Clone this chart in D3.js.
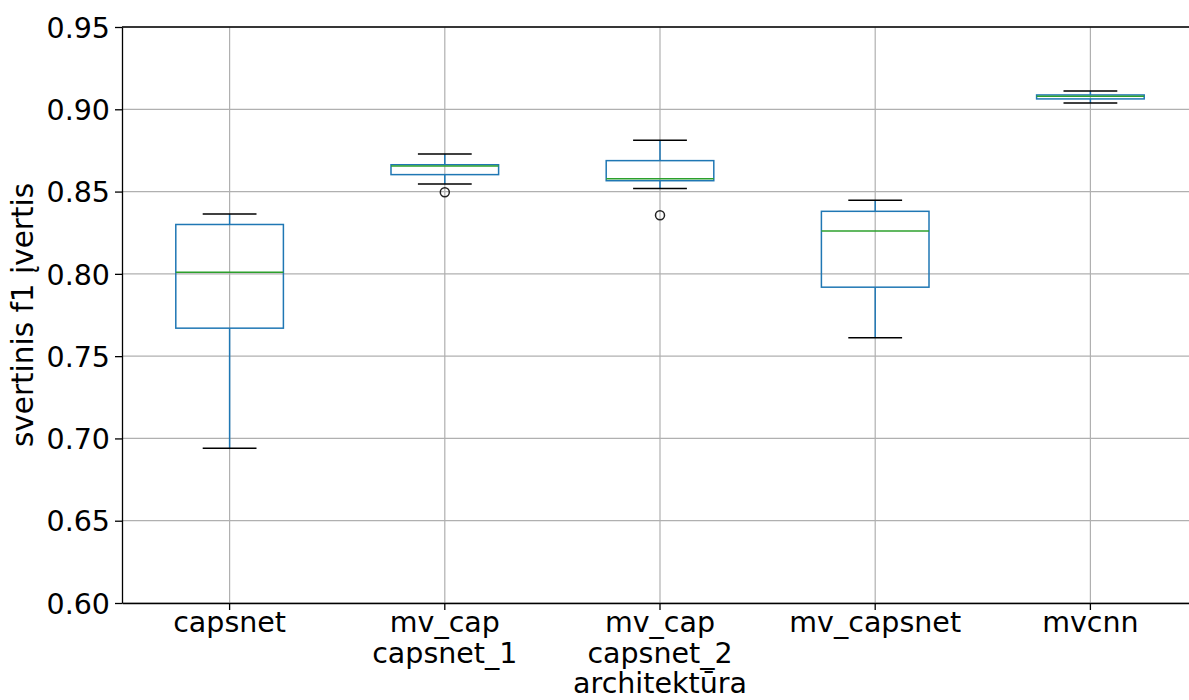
<!DOCTYPE html>
<html>
<head>
<meta charset="utf-8">
<script src="https://cdn.jsdelivr.net/npm/d3@7"></script>
<style>
  body { margin: 0; background: #fff; }
  svg text { font-family: "DejaVu Sans", sans-serif; fill: #000; }
</style>
</head>
<body>
<svg id="chart" width="1189" height="700"></svg>
<script>
// data
var categories = ["capsnet", "mv_cap\ncapsnet_1", "mv_cap\ncapsnet_2\narchitektūra", "mv_capsnet", "mvcnn"];
var whiskerLow  = [0.694, 0.8546, 0.8518, 0.7612, 0.9038];
var q1          = [0.767, 0.8603, 0.8566, 0.7919, 0.9063];
var median      = [0.801, 0.8656, 0.8578, 0.8261, 0.9079];
var q3          = [0.830, 0.8663, 0.8688, 0.8380, 0.9087];
var whiskerHigh = [0.8364, 0.8728, 0.8812, 0.8447, 0.9111];
var outliers    = [[], [0.8496], [0.8356], [], []];
var yTicks = [0.60, 0.65, 0.70, 0.75, 0.80, 0.85, 0.90, 0.95];
var yLabel = "svertinis f1 įvertis";

var margin = {left: 122, top: 27, right: 1198, bottom: 603};
var svg = d3.select("#chart");

var x = d3.scaleBand().domain(categories).range([margin.left, margin.right]);
var y = d3.scaleLinear().domain([0.60, 0.95]).range([margin.bottom, margin.top]);
var cx = function (c) { return x(c) + x.bandwidth() / 2; };
var boxW = x.bandwidth() * 0.5;
var capW = boxW * 0.5;

// grid
var grid = svg.append("g").attr("stroke", "#b0b0b0").attr("stroke-width", 1.2);
grid.selectAll(".gy").data(yTicks).enter().append("line")
    .attr("x1", margin.left).attr("x2", margin.right)
    .attr("y1", function (d) { return y(d); }).attr("y2", function (d) { return y(d); });
grid.selectAll(".gx").data(categories).enter().append("line")
    .attr("x1", cx).attr("x2", cx)
    .attr("y1", margin.top).attr("y2", margin.bottom);

// boxes
var rows = categories.map(function (c, i) {
  return {c: c, lo: whiskerLow[i], q1: q1[i], med: median[i], q3: q3[i], hi: whiskerHigh[i], out: outliers[i]};
});
var g = svg.append("g").selectAll("g").data(rows).enter().append("g");

g.append("line").attr("stroke", "#1f77b4").attr("stroke-width", 1.5)
    .attr("x1", function (d) { return cx(d.c); }).attr("x2", function (d) { return cx(d.c); })
    .attr("y1", function (d) { return y(d.q3); }).attr("y2", function (d) { return y(d.hi); });
g.append("line").attr("stroke", "#1f77b4").attr("stroke-width", 1.5)
    .attr("x1", function (d) { return cx(d.c); }).attr("x2", function (d) { return cx(d.c); })
    .attr("y1", function (d) { return y(d.q1); }).attr("y2", function (d) { return y(d.lo); });
g.append("rect").attr("fill", "none").attr("stroke", "#1f77b4").attr("stroke-width", 1.5)
    .attr("x", function (d) { return cx(d.c) - boxW / 2; }).attr("width", boxW)
    .attr("y", function (d) { return y(d.q3); })
    .attr("height", function (d) { return y(d.q1) - y(d.q3); });
g.append("line").attr("stroke", "#2ca02c").attr("stroke-width", 1.5)
    .attr("x1", function (d) { return cx(d.c) - boxW / 2; }).attr("x2", function (d) { return cx(d.c) + boxW / 2; })
    .attr("y1", function (d) { return y(d.med); }).attr("y2", function (d) { return y(d.med); });
["lo", "hi"].forEach(function (k) {
  g.append("line").attr("stroke", "#000").attr("stroke-width", 1.5)
      .attr("x1", function (d) { return cx(d.c) - capW / 2; }).attr("x2", function (d) { return cx(d.c) + capW / 2; })
      .attr("y1", function (d) { return y(d[k]); }).attr("y2", function (d) { return y(d[k]); });
});
g.selectAll("circle").data(function (d) { return d.out.map(function (v) { return {c: d.c, v: v}; }); })
  .enter().append("circle")
    .attr("cx", function (d) { return cx(d.c); }).attr("cy", function (d) { return y(d.v); })
    .attr("r", 4.5).attr("fill", "none").attr("stroke", "#222").attr("stroke-width", 1.5);

// spines
svg.append("line").attr("x1", margin.left).attr("x2", margin.right).attr("y1", margin.top).attr("y2", margin.top)
    .attr("stroke", "#000").attr("stroke-width", 1.3);

// axes
var yAxis = svg.append("g").attr("transform", "translate(" + margin.left + ",0)")
    .call(d3.axisLeft(y).tickValues(yTicks).tickFormat(d3.format(".2f")).tickSize(7).tickPadding(5).tickSizeOuter(0));
yAxis.selectAll("text").style("font-size", "28.5px").attr("dy", "0.36em");

var xAxis = svg.append("g").attr("transform", "translate(0," + margin.bottom + ")")
    .call(d3.axisBottom(x).tickSize(7).tickSizeOuter(0).tickFormat(""));
xAxis.selectAll(".tick text").each(function (d) {
  var t = d3.select(this).text(null).attr("dy", null).attr("y", 29).style("font-size", "28.5px");
  d.split("\n").forEach(function (line, i) {
    t.append("tspan").attr("x", 0).attr("y", 29 + i * 30.5).text(line);
  });
});
svg.selectAll(".domain").attr("stroke", "#000").attr("stroke-width", 1.3);
svg.selectAll(".tick line").attr("stroke", "#000").attr("stroke-width", 1.3);

svg.append("text").attr("transform", "translate(33," + (margin.top + margin.bottom) / 2 + ") rotate(-90)")
    .attr("text-anchor", "middle").style("font-size", "29.5px").text(yLabel);
</script>
</body>
</html>
